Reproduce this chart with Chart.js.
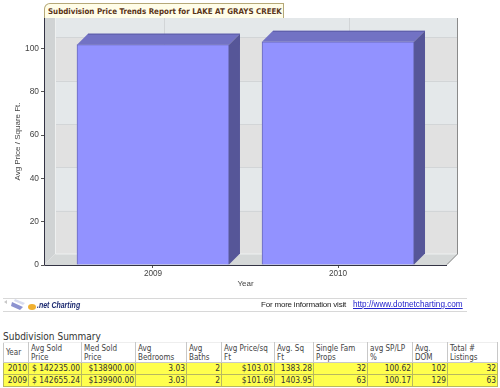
<!DOCTYPE html>
<html>
<head>
<meta charset="utf-8">
<script src="https://cdn.jsdelivr.net/npm/chart.js@4"></script>
<style>
html,body{margin:0;padding:0;background:#fff;width:500px;height:388px;overflow:hidden}
#wrap{position:absolute;left:0;top:0;width:500px;height:300px}
.cond{font-family:"DejaVu Sans Condensed","DejaVu Sans";font-stretch:condensed}
#tab{position:absolute;left:44px;top:3px;height:14px;background:#fffde8;border:1px solid #b5a878;border-bottom:none;border-top-left-radius:6px;font-weight:bold;font-size:7.9px;color:#5a3418;line-height:15px;padding-left:3px;white-space:nowrap;width:235px}
#f1,#f2{position:absolute;left:3px;width:464px;height:1px;background:#d8d8d8}
#f1{top:298px}#f2{top:311px}
#logo{position:absolute;left:3px;top:298px}
#net{position:absolute;left:37px;top:300px;font:italic bold 7px "Liberation Sans";color:#1c2a70;transform:scaleY(1.3);transform-origin:left top;white-space:nowrap}
#info{position:absolute;left:261px;top:300px;font:8px "Liberation Sans";color:#222;white-space:nowrap;letter-spacing:-.2px}
#link{position:absolute;left:353px;top:300px;font:8.2px "Liberation Sans";color:#2222cc;text-decoration:underline;white-space:nowrap}
#sum{position:absolute;left:3px;top:331px;font-size:10px;color:#333}
table{position:absolute;left:3px;top:342px;border-collapse:collapse;table-layout:fixed;width:494px;font-size:8px;color:#333}
td,th{border:1px solid #c8c8c8;padding:0 1px 0 2px;font-weight:normal;overflow:hidden;line-height:9px}
th{text-align:left;height:19px;color:#444;background:#fff;border-top-color:#eee}
td{height:11px;background:#ffff4d;text-align:right;font-size:8.4px;border-color:#b8b860;white-space:nowrap}
</style>
</head>
<body>
<div id="wrap"><canvas id="c" width="500" height="300"></canvas></div>
<div id="tab" class="cond">Subdivision Price Trends Report for LAKE AT GRAYS CREEK</div>
<div id="f1"></div><div id="f2"></div>
<svg id="logo" width="36" height="13" viewBox="0 0 36 13">
<polygon points="1,4 4,2 4,6" fill="#c8c8c8"/>
<polygon points="9,4 20,9 17,12 8,8" fill="#8c92d0"/>
<polygon points="12,1 22,5 20,7 11,3" fill="#d8dcf0"/>
<ellipse cx="29" cy="9" rx="4" ry="3" fill="#f0b030"/>
</svg>
<div id="net">.net Charting</div>
<div id="info">For more information visit</div>
<div id="link">http://www.dotnetcharting.com</div>
<div id="sum" class="cond">Subdivision Summary</div>
<table id="t" class="cond"></table>
<script>
const years = [2009, 2010];
const avgPricePerSqFt = [101.69, 103.01];
const yTicks = [0, 20, 40, 60, 80, 100];
const tableHeaders = ["Year","Avg Sold Price","Med Sold Price","Avg Bedrooms","Avg Baths","Avg Price/sq Ft","Avg. Sq Ft","Single Fam Props","avg SP/LP %","Avg. DOM","Total # Listings"];
const row2010 = ["2010","$ 142235.00","$138900.00","3.03","2","$103.01","1383.28","32","100.62","102","32"];
const row2009 = ["2009","$ 142655.24","$139900.00","3.03","2","$101.69","1403.95","63","100.17","129","63"];
const colWidths = [25,53,54,51,35,53,39,54,45,35,50];

const DEPTH = 11;
const walls = {
  id:'walls',
  beforeDatasetsDraw(ch){
    const {ctx,chartArea:a,scales:{x,y}} = ch;
    const L=a.left,R=a.right,T=a.top,B=a.bottom,d=DEPTH;
    const poly=(pts,fill)=>{ctx.beginPath();pts.forEach((p,i)=>i?ctx.lineTo(p[0],p[1]):ctx.moveTo(p[0],p[1]));ctx.closePath();ctx.fillStyle=fill;ctx.fill();};
    ctx.save();
    poly([[L+d,T],[R+d,T],[R+d,B-d],[L+d,B-d]],'#e1e1e1');
    ctx.fillStyle='#e4e8ea';
    const top = y.max;
    [[20,40],[60,80],[100,top]].forEach(([lo,hi])=>{
      const py1=Math.max(T,y.getPixelForValue(hi)-d),py0=y.getPixelForValue(lo)-d;
      ctx.fillRect(L+d,py1,R-L,py0-py1);
    });
    ctx.strokeStyle='#d2d5d7';ctx.lineWidth=1;
    yTicks.slice(1).forEach(v=>{const p=Math.round(y.getPixelForValue(v)-d)+.5;ctx.beginPath();ctx.moveTo(L+d,p);ctx.lineTo(R+d,p);ctx.stroke();});
    years.forEach(v=>{const p=Math.round(x.getPixelForValue(v)+d)+.5;ctx.beginPath();ctx.moveTo(p,T);ctx.lineTo(p,B-d);ctx.stroke();});
    poly([[L,T],[L+d,T],[L+d,B-d],[L,B]],'#d0d3d4');
    poly([[L,B],[L+d,B-d],[R+d,B-d],[R,B]],'#d5d8d8');
    ctx.strokeStyle='#eef0f0';
    ctx.beginPath();ctx.moveTo(L+d+.5,T);ctx.lineTo(L+d+.5,B-d);ctx.lineTo(R+d,B-d);ctx.stroke();
    ctx.strokeStyle='#8a8a8a';
    ctx.beginPath();ctx.moveTo(R+d-.5,T);ctx.lineTo(R+d-.5,B-d);ctx.lineTo(R,B-.5);ctx.stroke();
    ctx.restore();
  },
  afterDatasetsDraw(ch){
    const {ctx} = ch,d=DEPTH;
    ch.getDatasetMeta(0).data.forEach(b=>{
      const l=b.x-b.width/2,r=b.x+b.width/2,t=b.y,bt=b.base;
      ctx.save();
      ctx.fillStyle='#7272c4';
      ctx.beginPath();ctx.moveTo(l,t);ctx.lineTo(l+d,t-d);ctx.lineTo(r+d,t-d);ctx.lineTo(r,t);ctx.closePath();ctx.fill();
      ctx.fillStyle='#565698';
      ctx.beginPath();ctx.moveTo(r,t);ctx.lineTo(r+d,t-d);ctx.lineTo(r+d,bt-d);ctx.lineTo(r,bt);ctx.closePath();ctx.fill();
      ctx.strokeStyle='#5c5ca8';ctx.lineWidth=1;
      ctx.beginPath();ctx.moveTo(l+d,t-d+.5);ctx.lineTo(r+d,t-d+.5);ctx.stroke();
      ctx.restore();
    });
    const a=ch.chartArea;
    ctx.save();ctx.strokeStyle='#333344';ctx.lineWidth=1;
    ctx.beginPath();ctx.moveTo(a.left+.5,a.top);ctx.lineTo(a.left+.5,a.bottom+.5);ctx.lineTo(a.right,a.bottom+.5);ctx.stroke();
    ctx.restore();
  }
};

new Chart(document.getElementById('c'),{
  type:'bar',
  data:{datasets:[{
    data:years.map((yr,i)=>({x:yr,y:avgPricePerSqFt[i]})),
    backgroundColor:'#9292ff',borderColor:'#6a6ab8',borderWidth:1,barThickness:152
  }]},
  plugins:[walls],
  options:{
    responsive:false,animation:false,
    layout:{padding:{top:18,right:53,left:0,bottom:0}},
    plugins:{legend:{display:false},tooltip:{enabled:false}},
    scales:{
      x:{type:'linear',offset:false,min:2008.411,max:2010.589,
        afterBuildTicks:s=>{s.ticks=years.map(v=>({value:v}));},
        afterFit:s=>{s.height=35;},
        grid:{display:true,offset:false,drawOnChartArea:false,drawTicks:true,tickLength:3,color:'#555'},
        border:{display:false},
        ticks:{autoSkip:false,maxRotation:0,padding:1,color:'#444',font:{family:'Liberation Sans',size:8.2},callback:v=>String(v)},
        title:{display:true,text:'Year',color:'#444',font:{family:'Liberation Sans',size:8},padding:{top:0,bottom:11}}
      },
      y:{min:0,max:114,
        afterBuildTicks:s=>{s.ticks=yTicks.map(v=>({value:v}));},
        afterFit:s=>{s.width=44;},
        grid:{display:true,drawOnChartArea:false,drawTicks:true,tickLength:3,color:'#555'},
        border:{display:false},
        ticks:{padding:2,color:'#444',font:{family:'Liberation Sans',size:8.4}},
        title:{display:true,text:'Avg Price / Square Ft.',color:'#444',font:{family:'Liberation Sans',size:8},padding:{top:13,bottom:2}}
      }
    }
  }
});

const t=document.getElementById('t');
let html='<colgroup>'+colWidths.map(w=>`<col style="width:${w}px">`).join('')+'</colgroup>';
html+='<tr>'+tableHeaders.map(h=>`<th>${h}</th>`).join('')+'</tr>';
[row2010,row2009].forEach(r=>{html+='<tr>'+r.map(v=>`<td>${v}</td>`).join('')+'</tr>';});
t.innerHTML=html;
</script>
</body>
</html>
